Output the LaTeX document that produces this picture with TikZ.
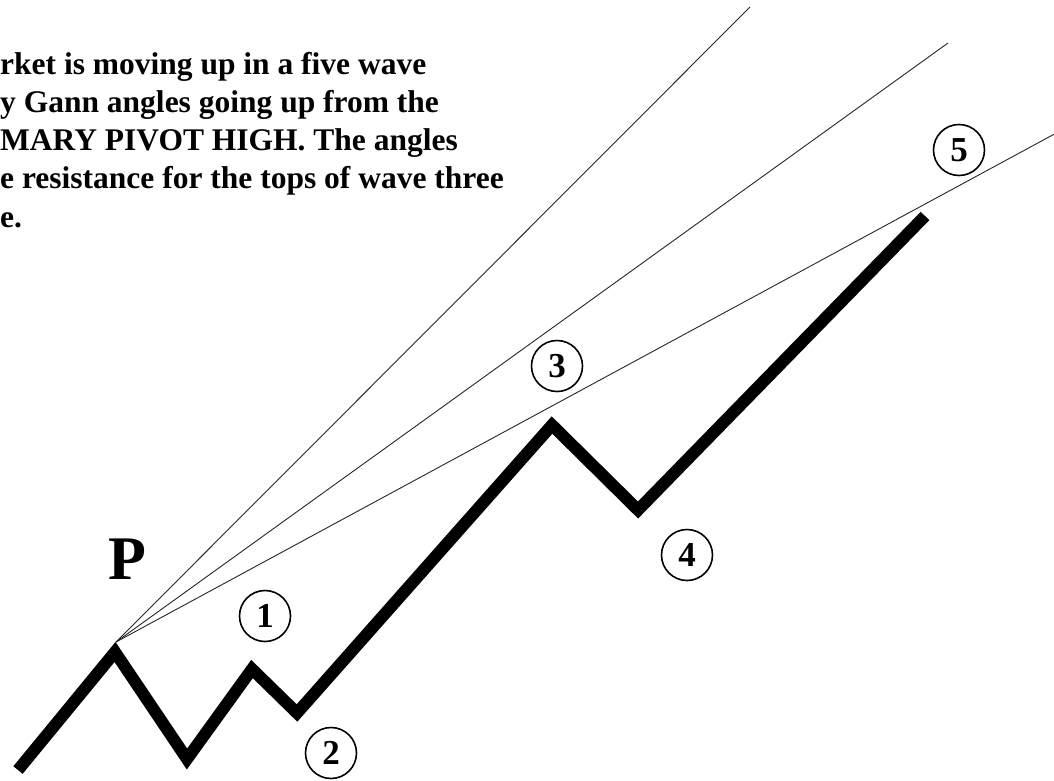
\documentclass[tikz,border=0pt]{standalone}
\usepackage{fontspec}
\setmainfont{Liberation Serif}
\usetikzlibrary{positioning}

\begin{document}
\begin{tikzpicture}[x=1pt, y=-1pt,
  % heavy price swing line
  wave/.style={line width=12pt, line join=miter, line cap=butt},
  gann/.style={line width=0.9pt, black!85},
  wavenum/.style={draw, circle, line width=1.6pt, minimum size=51pt, inner sep=0pt,
                  font=\fontsize{35pt}{35pt}\selectfont\bfseries},
  note/.style={anchor=base west, inner sep=0pt, font=\fontsize{31.5pt}{38pt}\selectfont\bfseries},
]
\useasboundingbox (0,0) rectangle (1054,780);

%% ── note text (cut off at the left edge) ─────────────────────────
\foreach \i/\dx/\yy/\txt in {1/0/74/{rket is moving up in a five wave},
                             2/0/112/{y Gann angles going up from the},
                             3/0/150/{MARY PIVOT HIGH. The angles},
                             4/0/188/{e resistance for the tops of wave three},
                             5/0/227/{e.}}
  \node[note] (line\i) at (\dx,\yy) {\txt};

%% ── swing points ─────────────────────────────────────────────────
\coordinate (w0)  at (18,770);
\coordinate (piv) at (115,652);
\coordinate (t0)  at (187,759);
\coordinate (p1)  at (252,669);
\coordinate (t2)  at (297,713);
\coordinate (p3)  at (552,425);
\coordinate (t4)  at (638,510);
\coordinate (p5)  at (925,216);

\draw[wave] (w0) -- (piv) -- (t0) -- (p1) -- (t2) -- (p3) -- (t4) -- (p5);

%% ── Gann angles from the pivot high ─────────────────────────────
\coordinate (gO) at (116,642);
\coordinate (gA) at (750,7);
\coordinate (gB) at (948,43);
\coordinate (gC) at (1060,131);
\foreach \e in {gA, gB, gC}
  \draw[gann] (gO) -- (\e);

\node[font=\fontsize{62pt}{62pt}\selectfont\bfseries] (plab) at (127,559) {P};

%% ── wave counts ─────────────────────────────────────────────────
\node[wavenum] (n1) at (265,616) {1};
\node[wavenum] (n2) at (331,753) {2};
\node[wavenum] (n3) at (557,366) {3};
\node[wavenum] (n4) at (687,555) {4};
\node[wavenum] (n5) at (959,150) {5};

\end{tikzpicture}
\end{document}
